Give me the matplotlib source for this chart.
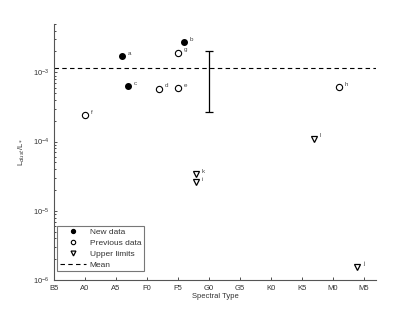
import numpy as np
import matplotlib
matplotlib.use('Agg')
import matplotlib.pyplot as plt

plt.rcParams['font.family'] = ['Liberation Sans', 'DejaVu Sans']

# spectral type as number: B5=0, A0=5, ... M5=50
tick_labels = ['B5', 'A0', 'A5', 'F0', 'F5', 'G0', 'G5', 'K0', 'K5', 'M0', 'M5']

new_x = [11, 21, 12]
new_y = [1.7e-3, 2.7e-3, 6.3e-4]
new_lab = ['a', 'b', 'c']

prev_x = [17, 20, 5, 20, 46]
prev_y = [5.8e-4, 5.9e-4, 2.4e-4, 1.92e-3, 6.1e-4]
prev_lab = ['d', 'e', 'f', 'g', 'h']

lim_x = [23, 49, 23, 42]
lim_y = [2.6e-5, 1.55e-6, 3.4e-5, 1.1e-4]
lim_lab = ['i', 'j', 'k', 'l']

mean_val = 1.14e-3
mean_err = 0.87e-3
err_x = 25

fig = plt.figure(figsize=(4.15, 3.15), dpi=100)
ax = fig.add_axes([0.130, 0.111, 0.776, 0.813])

ax.plot(new_x, new_y, 'o', color='black', ms=4, label='New data')
ax.plot(prev_x, prev_y, 'o', mfc='white', mec='black', mew=0.8, ms=4.5, label='Previous data')
ax.plot(lim_x, lim_y, 'v', mfc='white', mec='black', mew=0.9, ms=5, label='Upper limits')
ax.axhline(mean_val, color='black', ls='--', lw=0.8, dashes=(4, 3), label='Mean')
ax.errorbar([err_x], [mean_val], yerr=[mean_err], fmt='none', ecolor='black',
            elinewidth=0.9, capsize=3, capthick=0.9)

for xs, ys, labs in [(new_x, new_y, new_lab), (prev_x, prev_y, prev_lab), (lim_x, lim_y, lim_lab)]:
    for x, y, s in zip(xs, ys, labs):
        ax.annotate(s, (x, y), xytext=(4, 1), textcoords='offset points',
                    fontsize=4.5, color='#444444')

ax.set_yscale('log')
ax.set_ylim(1e-6, 5e-3)
ax.set_xlim(0, 52)
ax.set_xticks(np.arange(0, 51, 5))
ax.set_xticklabels(tick_labels)
ax.set_yticks([1e-6, 1e-5, 1e-4, 1e-3])

ax.spines['top'].set_visible(False)
ax.spines['right'].set_visible(False)
for sp in ['left', 'bottom']:
    ax.spines[sp].set_color('#555555')
    ax.spines[sp].set_linewidth(0.8)
ax.tick_params(direction='in', labelsize=5.5, length=2.5, width=0.6, colors='#333333')
ax.tick_params(which='minor', direction='in', length=1.5, width=0.5)
ax.tick_params(axis='x', which='minor', bottom=False)

ax.set_xlabel('Spectral Type', fontsize=5.5, color='#333333', labelpad=1)
ax.set_ylabel(r'L$_{dust}$/L$_*$', fontsize=5.5, color='#333333')
ax.yaxis.set_label_coords(-0.084, 0.5)

leg = ax.legend(loc='lower left', bbox_to_anchor=(0.01, 0.035), fontsize=6,
                frameon=True, fancybox=False, edgecolor='#555555',
                borderpad=0.3, handlelength=3.1, handletextpad=0.5,
                labelspacing=0.35, borderaxespad=0, markerscale=0.7)
leg.get_frame().set_linewidth(0.8)
for t in leg.get_texts():
    t.set_color('#333333')

fig.savefig('out.png', dpi=100)
